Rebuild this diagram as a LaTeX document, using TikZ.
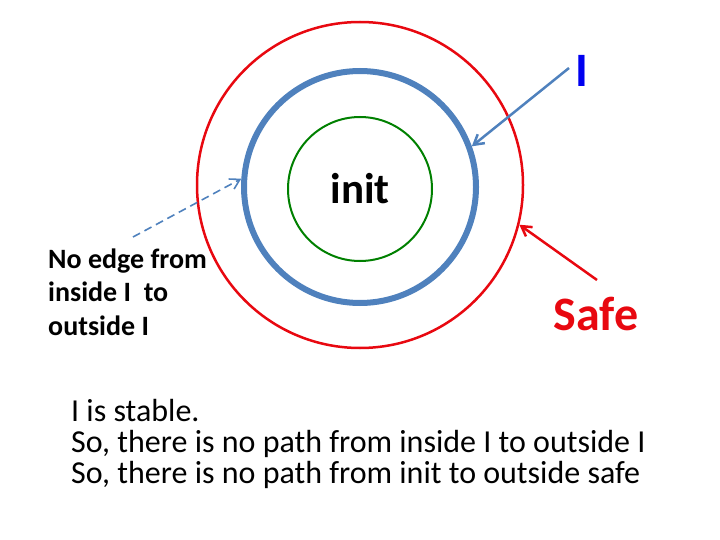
\documentclass[tikz,border=0pt]{standalone}
\usepackage{fontspec}
\setmainfont{Carlito}
\usetikzlibrary{positioning}
\usetikzlibrary{arrows.meta}
\tikzset{>={Straight Barb[length=3.4mm,width=4mm]}}
\definecolor{safered}{RGB}{232,8,16}
\definecolor{invblue}{RGB}{79,129,189}
\definecolor{initgreen}{RGB}{0,128,0}
\definecolor{labelblue}{RGB}{0,0,240}

\begin{document}
\begin{tikzpicture}[x=1pt, y=-1pt, ring/.style={circle, inner sep=0pt}, biglabel/.style={inner sep=0pt, anchor=base, font=\bfseries\fontsize{48}{52}\selectfont}, note/.style={inner sep=0pt, align=left, anchor=base west}]
    \useasboundingbox (0,0) rectangle (720,540);

    %Nodes
    \node[ring, draw=safered, line width=2.5pt, minimum size=326pt](safe) at (360,185){};
    \node[ring, draw=invblue, line width=6pt, minimum size=232pt](inv) at (360,187){};
    \node[ring, draw=initgreen, line width=2pt, minimum size=144pt, font=\bfseries\fontsize{43}{46}\selectfont](init) at (360,189){init};
    \node[biglabel, text=labelblue](ilabel) at (582,87){I};
    \node[biglabel, text=safered](safelabel) at (596,330){Safe};
    \node[note, font=\bfseries\fontsize{28}{33.5}\selectfont](edgenote) at (48,335){No edge from\\inside I~ to\\outside I};
    \node[note, font=\fontsize{32}{31}\selectfont](stable) at (71,483){I is stable.\\So, there is no path from inside I to outside I\\So, there is no path from init to outside safe};
    \coordinate (ifrom) at (569,68);
    \coordinate (safefrom) at (597,280);
    \coordinate (notefrom) at (133,237);

    %Lines
    \draw[->, invblue, line width=2.5pt] (ifrom) -- (inv.20);
    \draw[->, safered, line width=2.5pt] (safefrom) -- (safe.-14);
    \draw[->, invblue, line width=1.6pt, dash pattern=on 8pt off 5pt] (notefrom) -- (inv.176);

\end{tikzpicture}
\end{document}
